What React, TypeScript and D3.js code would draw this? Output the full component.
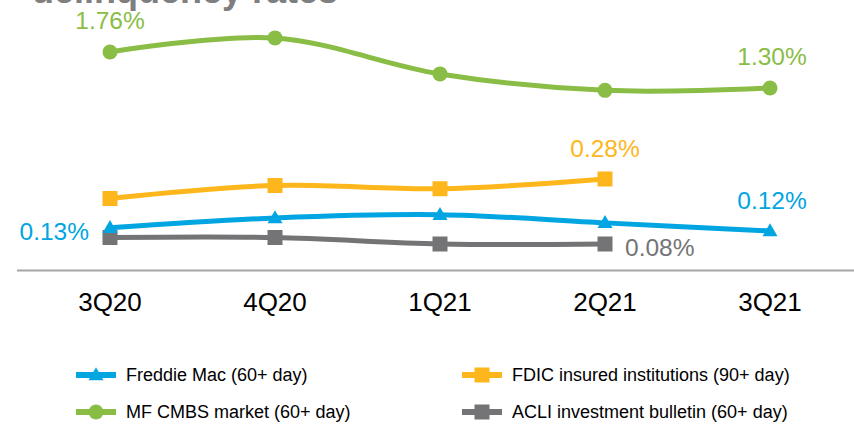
import React from 'react';
import * as d3 from 'd3';

const categories = ['3Q20', '4Q20', '1Q21', '2Q21', '3Q21'];
const freddieMac = [0.13, 0.16, 0.17, 0.145, 0.12];
const fdic = [0.22, 0.26, 0.25, 0.28, null];
const mfCmbs = [1.76, 1.94, 1.48, 1.27, 1.3];
const acli = [0.1, 0.1, 0.08, 0.08, null];
const title = 'delinquency rates';
const legendNames = [
  'Freddie Mac (60+ day)',
  'FDIC insured institutions (90+ day)',
  'MF CMBS market (60+ day)',
  'ACLI investment bulletin (60+ day)',
];

const W = 854;
const H = 426;
const FONT = "'Liberation Sans', Arial, Helvetica, sans-serif";

const COLORS = {
  blue: '#00A5E1',
  yellow: '#FDB61B',
  green: '#8ABD45',
  gray: '#747476',
};

type Series = {
  name: string;
  values: (number | null)[];
  color: string;
  marker: 'triangle' | 'square' | 'circle';
  scale: 'low' | 'high';
};

const series: Series[] = [
  { name: legendNames[0], values: freddieMac, color: COLORS.blue, marker: 'triangle', scale: 'low' },
  { name: legendNames[1], values: fdic, color: COLORS.yellow, marker: 'square', scale: 'low' },
  { name: legendNames[2], values: mfCmbs, color: COLORS.green, marker: 'circle', scale: 'high' },
  { name: legendNames[3], values: acli, color: COLORS.gray, marker: 'square', scale: 'low' },
];

function Marker({ type, x, y, color }: { type: string; x: number; y: number; color: string }) {
  if (type === 'circle') return <circle cx={x} cy={y} r={7.5} fill={color} />;
  if (type === 'square') return <rect x={x - 7.5} y={y - 7.5} width={15} height={15} fill={color} />;
  const s = 15;
  const h = 13;
  return (
    <path
      d={`M${x},${y - h * 0.6} L${x + s / 2},${y + h * 0.4} L${x - s / 2},${y + h * 0.4} Z`}
      fill={color}
    />
  );
}

export default function App() {
  const x = d3.scalePoint<string>().domain(categories).range([110, 770]);
  const yLow = d3.scaleLinear().domain([0, 0.8]).range([270, 10]);
  const yHigh = d3.scaleLinear().domain([1.3, 1.76]).range([88, 52]);
  const fmt = (v: number) => v.toFixed(2) + '%';

  const lineFor = (s: Series) => {
    const yS = s.scale === 'low' ? yLow : yHigh;
    const pts = s.values
      .map((v, i) => (v == null ? null : ([x(categories[i])!, yS(v)] as [number, number])))
      .filter((p): p is [number, number] => p !== null);
    return { pts, d: d3.line().curve(d3.curveCatmullRom.alpha(0))(pts) || '' };
  };

  const drawOrder = [series[3], series[0], series[1], series[2]];

  // data labels: [series index, point index, dx, dy, anchor]
  const labels: [number, number, number, number, string][] = [
    [2, 0, 0, -23, 'middle'],
    [2, 4, 2, -23, 'middle'],
    [1, 3, 0, -22, 'middle'],
    [0, 4, 2, -22, 'middle'],
    [0, 0, -21, 12, 'end'],
    [3, 3, 20, 12, 'start'],
  ];

  const legendPos = [
    [76, 375],
    [462, 375],
    [76, 412],
    [462, 412],
  ];

  return (
    <svg
      width={W}
      height={H}
      style={{ position: 'absolute', left: 0, top: 0, background: '#fff' }}
      fontFamily={FONT}
    >
      <rect width={W} height={H} fill="#fff" />
      <text x={32} y={3} fontSize={36} fontWeight="bold" fill="#7F7F7F">
        {title}
      </text>

      <line x1={17} x2={W} y1={270.5} y2={270.5} stroke="#A6A6A6" strokeWidth={2} />

      {categories.map((c) => (
        <text key={c} x={x(c)} y={311} fontSize={26} textAnchor="middle" fill="#000">
          {c}
        </text>
      ))}

      {drawOrder.map((s) => {
        const { pts, d } = lineFor(s);
        return (
          <g key={s.name}>
            <path d={d} fill="none" stroke={s.color} strokeWidth={5} strokeLinecap="round" />
            {pts.map((p, i) => (
              <Marker key={i} type={s.marker} x={p[0]} y={p[1]} color={s.color} />
            ))}
          </g>
        );
      })}

      {labels.map(([si, pi, dx, dy, anchor], k) => {
        const s = series[si];
        const v = s.values[pi] as number;
        const yS = s.scale === 'low' ? yLow : yHigh;
        return (
          <text
            key={k}
            x={x(categories[pi])! + dx}
            y={yS(v) + dy}
            fontSize={24.5}
            textAnchor={anchor as any}
            fill={s.color}
          >
            {fmt(v)}
          </text>
        );
      })}

      {series.map((s, i) => {
        const [lx, ly] = legendPos[i];
        return (
          <g key={s.name}>
            <line x1={lx} x2={lx + 40} y1={ly} y2={ly} stroke={s.color} strokeWidth={6} />
            <Marker type={s.marker} x={lx + 20} y={ly} color={s.color} />
            <text x={lx + 50} y={ly + 6} fontSize={18} fill="#000">
              {s.name}
            </text>
          </g>
        );
      })}
    </svg>
  );
}
